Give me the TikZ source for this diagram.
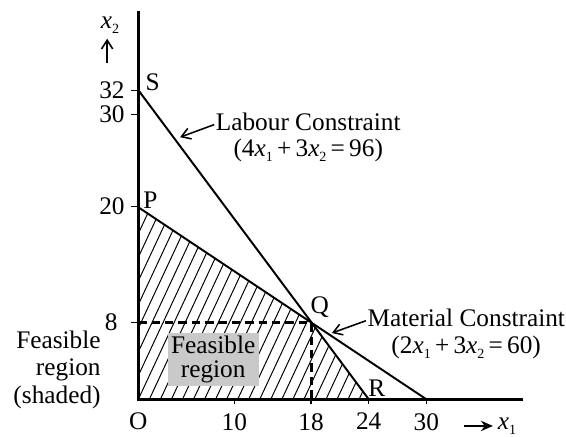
\documentclass[tikz,border=0pt]{standalone}
\usepackage{fontspec}
\setmainfont{Liberation Serif}
\usetikzlibrary{arrows.meta}
\newcommand{\xv}[1]{\textit{x}\raisebox{-0.45ex}{\fontsize{10}{10}\selectfont #1}}

\begin{document}
\begin{tikzpicture}[x=0.24cm,y=0.24cm,>={Straight Barb[length=2.2mm,width=2.8mm]},
  font=\fontsize{18}{20}\selectfont,line cap=butt,
  axis/.style={line width=2.4pt},
  cline/.style={line width=1.4pt},
  hatch/.style={line width=0.7pt},
  guide/.style={line width=2pt,dash pattern=on 6pt off 3.5pt},
  tick/.style={line width=0.9pt},
  pointer/.style={line width=1.1pt,->}]
\useasboundingbox (-14.41,-3.93) rectangle (44.55,41.59);
\coordinate (O) at (0,0);
\coordinate (P) at (0,20);
\coordinate (Q) at (18,8);
\coordinate (R) at (24,0);
\coordinate (S) at (0,32.2);
\coordinate (T) at (30,0);
\coordinate (Qy) at (0,8);
\coordinate (Qx) at (18,0);
% hatched feasible region
\begin{scope}
\clip (O) -- (P) -- (Q) -- (R) -- cycle;
\foreach \i in {-12,...,24}
  \draw[hatch] (\i*1.15,0) -- ++(11.66,25);
\end{scope}
\node[fill=gray!42,minimum width=64.7pt,minimum height=37.7pt,inner sep=1pt,
  align=center,font=\fontsize{18}{16.5}\selectfont] (freg) at (7.8,4.15) {Feasible\\region};
% constraint lines
\draw[cline] (S) -- (R);
\draw[cline] (P) -- (T);
\draw[guide] (Qy) -- (Q) -- (Qx);
% axes
\draw[axis] (0,40.45) -- (O) -- (40.04,0);
\foreach \v/\t in {20.06/20,29.7/30,32.2/32}
  \draw[tick] (0,\v) -- (-0.73,\v) node[left=1pt]{\t};
\draw[tick] (0,8) -- (-0.73,8) node[left=6pt]{8};
\foreach \v in {10,18,24,30}
  \draw[tick] (\v,0) -- (\v,-0.5) node[below=2.7pt]{\v};
\node[below=2.7pt] (lO) at (0,-0.5) {O};
% axis names
\node (xone) at (38.4,-2.78) {\xv{1}};
\coordinate (x1tail) at (33.9,-2.78);
\draw[line width=1.2pt,-{Stealth[length=3mm,width=2.6mm]}] (x1tail) -- (xone.west);
\node (xtwo) at (-2.95,38.95) {\xv{2}};
\coordinate (x2tail) at (-3.25,35.0);
\draw[pointer] (x2tail) -- (x2tail |- xtwo.south);
% corner points
\node (lS) at (1.48,33.0) {S};
\node (lP) at (1.27,20.76) {P};
\node (lQ) at (18.9,9.56) {Q};
\node (lR) at (24.83,1.13) {R};
% constraint labels
\node[anchor=west,inner sep=1pt] (labour) at (7.9,28.9) {Labour Constraint};
\node (labeq) at (17.7,25.97) {(4\xv{1}\,+\,3\xv{2}\,=\,96)};
\coordinate (lt) at (4.35,27.3);
\draw[pointer] ([yshift=-2pt]labour.west) -- (lt);
\node[anchor=west,inner sep=1pt] (mat) at (23.7,8.47) {Material Constraint};
\node (mateq) at (34.15,5.45) {(2\xv{1}\,+\,3\xv{2}\,=\,60)};
\coordinate (mt) at (20.16,6.9);
\draw[pointer] ([yshift=-2pt]mat.west) -- (mt);
\node[anchor=east,align=right,inner sep=0pt,font=\fontsize{18}{19.5}\selectfont] (shd) at (-3.9,3.06) {Feasible\\region\\(shaded)};
\end{tikzpicture}
\end{document}
